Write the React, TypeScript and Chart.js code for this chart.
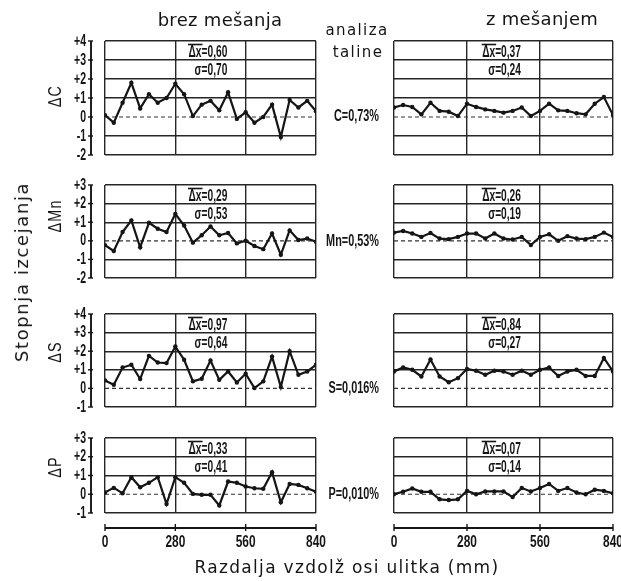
import React, { useEffect, useRef } from "react";
import { Chart, registerables } from "chart.js";
Chart.register(...registerables);

// ---------- data ----------
const distances = [0, 35, 70, 105, 140, 175, 210, 245, 280, 315, 350, 385, 420, 455, 490, 525, 560, 595, 630, 665, 700, 735, 770, 805, 840];
const xTicks = [0, 280, 560, 840];

const cBrez = [0.1, -0.3, 0.75, 1.8, 0.45, 1.2, 0.75, 1.0, 1.75, 1.2, 0.05, 0.65, 0.85, 0.35, 1.3, -0.1, 0.25, -0.3, 0, 0.65, -1.05, 0.9, 0.5, 0.85, 0.3];
const cZ = [0.5, 0.63, 0.53, 0.14, 0.75, 0.32, 0.28, 0.05, 0.7, 0.53, 0.4, 0.32, 0.23, 0.32, 0.5, 0.05, 0.32, 0.7, 0.35, 0.32, 0.2, 0.14, 0.7, 1.05, 0.1];
const mnBrez = [-0.23, -0.55, 0.47, 1.1, -0.35, 0.97, 0.65, 0.47, 1.45, 0.82, -0.1, 0.3, 0.77, 0.3, 0.42, -0.14, 0, -0.28, -0.45, 0.39, -0.75, 0.56, 0.04, 0.12, -0.05];
const mnZ = [0.44, 0.53, 0.39, 0.21, 0.42, 0.12, 0.09, 0.21, 0.39, 0.39, 0.12, 0.39, 0.12, 0.07, 0.21, -0.23, 0.21, 0.35, 0, 0.25, 0.12, 0.09, 0.21, 0.44, 0.21];
const sBrez = [0.43, 0.2, 1.12, 1.27, 0.5, 1.75, 1.39, 1.36, 2.25, 1.54, 0.38, 0.52, 1.5, 0.46, 0.91, 0.32, 0.79, 0.02, 0.38, 1.71, 0.07, 2.0, 0.73, 0.91, 1.27];
const sZ = [0.91, 1.13, 1.0, 0.64, 1.55, 0.64, 0.33, 0.55, 1.04, 0.95, 0.73, 0.95, 0.91, 0.73, 0.95, 0.73, 1.0, 1.13, 0.67, 0.91, 1.0, 0.67, 0.67, 1.64, 0.91];
const pBrez = [0.1, 0.34, 0.05, 0.91, 0.37, 0.61, 0.91, -0.52, 0.91, 0.61, 0.02, -0.03, -0.03, -0.6, 0.68, 0.61, 0.41, 0.32, 0.29, 1.18, -0.43, 0.55, 0.5, 0.32, 0.14];
const pZ = [0, 0.13, 0.31, 0.13, 0.13, -0.27, -0.31, -0.27, 0.18, 0, 0.15, 0.15, 0.15, -0.15, 0.33, 0.15, 0.33, 0.55, 0.18, 0.33, 0.09, 0, 0.24, 0.18, 0.05];

const yMins = [-2, -2, -1, -1];
const yMaxs = [4, 3, 4, 3];

const deltaBrez = ["0,60", "0,29", "0,97", "0,33"];
const sigmaBrez = ["0,70", "0,53", "0,64", "0,41"];
const deltaZ = ["0,37", "0,26", "0,84", "0,07"];
const sigmaZ = ["0,24", "0,19", "0,27", "0,14"];

const rowLabels = ["ΔC", "ΔMn", "ΔS", "ΔP"];
const meltLabels = ["C=0,73%", "Mn=0,53%", "S=0,016%", "P=0,010%"];

const seriesBrez = [cBrez, mnBrez, sBrez, pBrez];
const seriesZ = [cZ, mnZ, sZ, pZ];

// ---------- layout ----------
const W = 621;
const H = 581;
const rowTop = [41, 185, 314, 438];
const rowBottom = [155, 278, 407, 513];
const colLeft = [105, 394];
const colRight = [316, 613];
const rowLabelY = [96, 216, 352, 467];
const meltLabelY = [116, 241, 388, 494];

const NARROW = '"Liberation Sans Narrow", "Liberation Sans", sans-serif';
const INK = "#151515";

function fmtTick(v: number) {
  if (v > 0) return "+" + v;
  if (v < 0) return "-" + Math.abs(v);
  return "0";
}

function narrowText(ctx: CanvasRenderingContext2D, text: string, x: number, y: number, size: number, align: CanvasTextAlign, sx = 0.66, weight = "bold") {
  ctx.save();
  ctx.font = `${weight} ${size}px ${NARROW}`;
  ctx.textBaseline = "middle";
  ctx.textAlign = align;
  ctx.fillStyle = INK;
  ctx.translate(x, y);
  ctx.scale(sx, 1);
  ctx.fillText(text, 0, 0);
  const w = ctx.measureText(text).width * sx;
  ctx.restore();
  return w;
}

const panelPlugin = {
  id: "panelDeco",
  afterDraw(chart: any, _args: any, opts: any) {
    const { ctx, chartArea, scales } = chart;
    const xs = scales.x;
    const ys = scales.y;
    ctx.save();
    // statistics annotation
    const ax = xs.getPixelForValue(487);
    const y1 = chartArea.top + 11;
    const y2 = chartArea.top + 29.5;
    const sx = 0.6;
    const t1 = "Δx=" + opts.delta;
    const w1 = narrowText(ctx, t1, ax, y1, 17, "right", sx);
    ctx.save();
    ctx.font = `bold 17px ${NARROW}`;
    const wdx = ctx.measureText("Δx").width * sx;
    ctx.restore();
    ctx.strokeStyle = INK;
    ctx.lineWidth = 1.6;
    ctx.beginPath();
    ctx.moveTo(ax - w1 - 0.5, y1 - 7.5);
    ctx.lineTo(ax - w1 + wdx + 1, y1 - 7.5);
    ctx.stroke();
    narrowText(ctx, "σ=" + opts.sigma, ax, y2, 17, "right", sx);

    if (opts.leftAxis) {
      const axX = chartArea.left - 14;
      ctx.strokeStyle = INK;
      ctx.lineWidth = 1.9;
      ctx.beginPath();
      ctx.moveTo(axX, ys.getPixelForValue(ys.max));
      ctx.lineTo(axX, ys.getPixelForValue(ys.min));
      ctx.stroke();
      ctx.lineWidth = 1.4;
      for (const t of ys.ticks) {
        const py = ys.getPixelForValue(t.value);
        ctx.beginPath();
        ctx.moveTo(axX - 3, py);
        ctx.lineTo(axX + 2, py);
        ctx.stroke();
        narrowText(ctx, fmtTick(t.value), chartArea.left - 19, py, 17, "right", 0.62);
      }
    }
    if (opts.bottomAxis) {
      const axY = chartArea.bottom + 15;
      ctx.strokeStyle = INK;
      ctx.lineWidth = 1.9;
      ctx.beginPath();
      ctx.moveTo(xs.getPixelForValue(xs.min), axY);
      ctx.lineTo(xs.getPixelForValue(xs.max), axY);
      ctx.stroke();
      ctx.lineWidth = 1.4;
      for (const v of xTicks) {
        const px = xs.getPixelForValue(v);
        ctx.beginPath();
        ctx.moveTo(px, axY - 4);
        ctx.lineTo(px, axY + 3);
        ctx.stroke();
        narrowText(ctx, String(v), px, axY + 14, 17, "center", 0.7);
      }
    }
    ctx.restore();
  },
};

function Panel({ row, col }: { row: number; col: number }) {
  const ref = useRef<HTMLCanvasElement>(null);
  useEffect(() => {
    const vals = col === 0 ? seriesBrez[row] : seriesZ[row];
    const chart = new Chart(ref.current as HTMLCanvasElement, {
      type: "line",
      data: {
        datasets: [
          {
            data: distances.map((d, i) => ({ x: d, y: vals[i] })),
            borderColor: INK,
            borderWidth: 2.2,
            pointRadius: 2.2,
            pointBackgroundColor: INK,
            pointBorderWidth: 0,
            tension: 0,
          },
          {
            data: [{ x: 0, y: 0 }, { x: 840, y: 0 }],
            borderColor: "#333",
            borderWidth: 1.2,
            borderDash: [4, 3],
            pointRadius: 0,
          },
        ],
      },
      options: {
        responsive: false,
        animation: false,
        layout: {
          padding: {
            left: colLeft[col],
            right: W - colRight[col],
            top: rowTop[row],
            bottom: H - rowBottom[row],
          },
        },
        plugins: {
          legend: { display: false },
          tooltip: { enabled: false },
          panelDeco: {
            delta: col === 0 ? deltaBrez[row] : deltaZ[row],
            sigma: col === 0 ? sigmaBrez[row] : sigmaZ[row],
            leftAxis: col === 0,
            bottomAxis: row === 3,
          },
        } as any,
        scales: {
          x: {
            type: "linear",
            min: 0,
            max: 840,
            ticks: { display: false, stepSize: 280 },
            grid: { color: "#262626", lineWidth: 1.4, drawTicks: false },
            border: { display: false },
            afterFit: (s: any) => { s.height = 0; },
          },
          y: {
            type: "linear",
            min: yMins[row],
            max: yMaxs[row],
            ticks: { display: false, stepSize: 1 },
            grid: {
              color: (c: any) => (c.tick && c.tick.value === 0 ? "rgba(0,0,0,0)" : "#262626"),
              lineWidth: 1.4,
              drawTicks: false,
            },
            border: { display: false },
            afterFit: (s: any) => { s.width = 0; },
          },
        },
      } as any,
      plugins: [panelPlugin as any],
    });
    return () => chart.destroy();
  }, [row, col]);
  return <canvas ref={ref} width={W} height={H} style={{ position: "absolute", left: 0, top: 0 }} />;
}

const textBase: React.CSSProperties = {
  position: "absolute",
  whiteSpace: "nowrap",
  color: INK,
  fontFamily: '"DejaVu Sans", sans-serif',
  lineHeight: 1,
};

function Label({ text, cx, cy, size, rotate, family, spacing, align, sx, weight }: any) {
  const tx = align === "right" ? "-100%" : "-50%";
  return (
    <div
      style={{
        ...textBase,
        left: cx,
        top: cy,
        fontSize: size,
        fontWeight: weight || "normal",
        fontFamily: family || textBase.fontFamily,
        letterSpacing: spacing || 0,
        transform: `translate(${tx},-50%)${rotate ? " rotate(-90deg)" : ""}${sx ? ` scaleX(${sx})` : ""}`,
        transformOrigin: align === "right" ? "100% 50%" : "50% 50%",
      }}
    >
      {text}
    </div>
  );
}

export default function App() {
  const panels = [];
  for (let r = 0; r < 4; r++) for (let c = 0; c < 2; c++) panels.push(<Panel key={r + "-" + c} row={r} col={c} />);
  return (
    <div style={{ position: "absolute", left: 0, top: 0, width: W, height: H, background: "#fff", overflow: "hidden" }}>
      {panels}
      <Label text="brez mešanja" cx={220} cy={20} size={18} spacing={0.3} />
      <Label text="z mešanjem" cx={542} cy={19} size={18} spacing={0.3} />
      <Label text="analiza" cx={357} cy={30} size={15} spacing={1.4} />
      <Label text="taline" cx={358} cy={52} size={15} spacing={1.4} />
      <Label text="Stopnja izcejanja" cx={22} cy={272} size={18} spacing={1.6} rotate />
      {rowLabels.map((t, i) => (
        <Label key={t} text={t} cx={55} cy={rowLabelY[i]} size={18} rotate family={NARROW} spacing={1.5} sx={0.8} />
      ))}
      {meltLabels.map((t, i) => (
        <Label key={t} text={t} cx={379} cy={meltLabelY[i]} size={16} family={NARROW} align="right" sx={0.68} weight="bold" />
      ))}
      <Label text="Razdalja  vzdolž  osi  ulitka  (mm)" cx={347} cy={567} size={17} spacing={1.3} />
    </div>
  );
}
